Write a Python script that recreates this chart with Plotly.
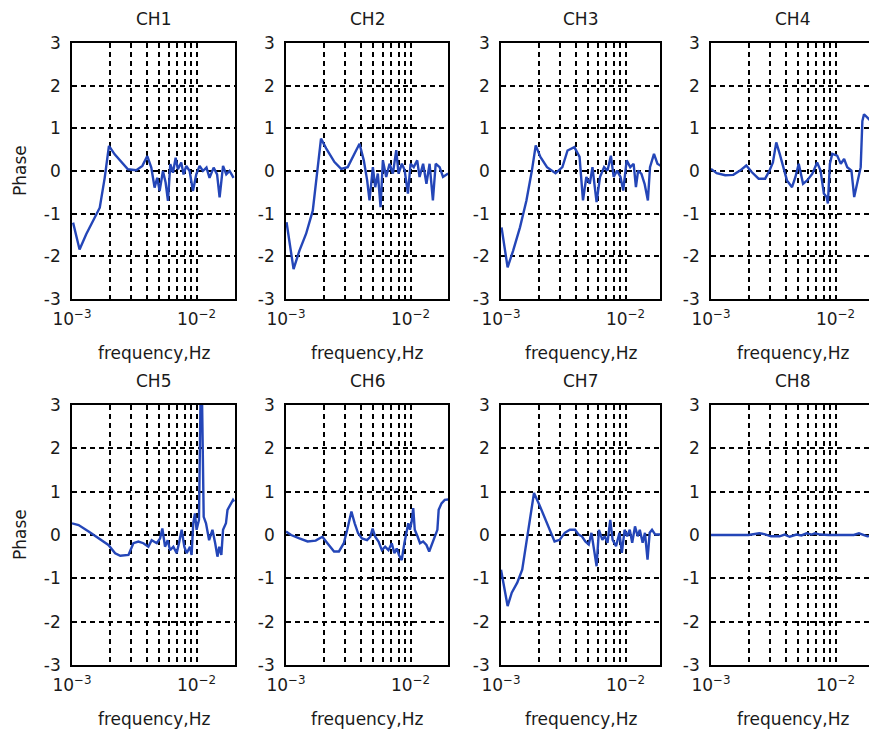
import plotly.graph_objects as go

# ---------------- data (frequency in Hz, phase) ----------------
titles = ["CH1", "CH2", "CH3", "CH4", "CH5", "CH6", "CH7", "CH8"]

f1 = [1.02e-3, 1.15e-3, 1.30e-3, 1.47e-3, 1.67e-3, 1.83e-3, 1.98e-3, 2.20e-3, 2.49e-3, 2.81e-3,
      3.28e-3, 3.67e-3, 4.02e-3, 4.33e-3, 4.60e-3, 4.83e-3, 5.05e-3, 5.37e-3, 5.64e-3, 5.89e-3,
      6.15e-3, 6.46e-3, 6.79e-3, 7.08e-3, 7.53e-3, 7.86e-3, 8.26e-3, 8.79e-3, 9.35e-3, 9.94e-3,
      1.057e-2, 1.124e-2, 1.20e-2, 1.27e-2, 1.37e-2, 1.46e-2, 1.53e-2, 1.63e-2, 1.73e-2, 1.84e-2, 1.98e-2]
p1 = [-1.21, -1.84, -1.48, -1.17, -0.86, -0.16, 0.59, 0.39, 0.20, 0.04,
      0.02, 0.12, 0.35, 0.08, -0.39, -0.16, -0.47, 0.00, -0.27, -0.70,
      0.16, -0.04, 0.31, 0.04, 0.20, -0.08, 0.12, 0.00, -0.47, -0.08,
      0.12, 0.00, 0.08, -0.16, 0.08, -0.08, -0.62, 0.12, -0.08, 0.00, -0.16]

f2 = [1.01e-3, 1.15e-3, 1.28e-3, 1.45e-3, 1.64e-3, 1.78e-3, 1.91e-3, 2.10e-3, 2.45e-3, 2.77e-3,
      3.13e-3, 3.55e-3, 3.89e-3, 4.21e-3, 4.48e-3, 4.68e-3, 4.98e-3, 5.20e-3, 5.46e-3, 5.74e-3,
      5.99e-3, 6.37e-3, 6.78e-3, 7.21e-3, 7.67e-3, 8.00e-3, 8.51e-3, 8.95e-3, 9.52e-3, 1.00e-2,
      1.06e-2, 1.13e-2, 1.18e-2, 1.26e-2, 1.34e-2, 1.42e-2, 1.51e-2, 1.59e-2, 1.71e-2, 1.82e-2, 2.00e-2]
p2 = [-1.20, -2.30, -1.87, -1.47, -0.93, 0.02, 0.76, 0.53, 0.21, 0.05,
      0.09, 0.41, 0.64, 0.25, -0.22, -0.69, 0.09, -0.38, -0.06, -0.85,
      0.25, -0.14, 0.17, -0.06, 0.49, -0.06, 0.17, 0.02, -0.53, 0.17,
      0.09, 0.25, -0.14, 0.17, -0.30, 0.17, -0.69, 0.17, 0.09, -0.14, -0.06]

f3 = [1.01e-3, 1.13e-3, 1.25e-3, 1.42e-3, 1.60e-3, 1.77e-3, 1.90e-3, 2.07e-3, 2.34e-3, 2.74e-3,
      3.11e-3, 3.42e-3, 3.88e-3, 4.27e-3, 4.55e-3, 4.84e-3, 5.16e-3, 5.42e-3, 5.66e-3, 5.85e-3,
      6.23e-3, 6.72e-3, 7.16e-3, 7.62e-3, 8.02e-3, 8.54e-3, 9.10e-3, 9.57e-3, 1.02e-2, 1.09e-2,
      1.16e-2, 1.21e-2, 1.26e-2, 1.34e-2, 1.42e-2, 1.51e-2, 1.57e-2, 1.69e-2, 1.80e-2, 2.00e-2]
p3 = [-1.32, -2.26, -1.87, -1.32, -0.69, 0.01, 0.60, 0.33, 0.09, -0.05,
      0.09, 0.48, 0.56, 0.33, -0.69, -0.14, -0.30, 0.09, -0.38, -0.73,
      -0.14, 0.09, 0.01, 0.36, -0.14, 0.01, -0.14, -0.46, 0.25, 0.09,
      0.17, -0.38, 0.01, -0.07, -0.30, -0.69, 0.09, 0.40, 0.17, 0.09]

f4 = [1.00e-3, 1.11e-3, 1.30e-3, 1.51e-3, 1.71e-3, 1.92e-3, 2.13e-3, 2.41e-3, 2.72e-3, 2.95e-3,
      3.14e-3, 3.34e-3, 3.56e-3, 3.78e-3, 4.07e-3, 4.47e-3, 4.76e-3, 5.06e-3, 5.48e-3, 5.91e-3,
      6.49e-3, 7.11e-3, 7.57e-3, 8.05e-3, 8.46e-3, 8.67e-3, 9.00e-3, 9.40e-3, 1.03e-2, 1.10e-2,
      1.17e-2, 1.24e-2, 1.34e-2, 1.41e-2, 1.48e-2, 1.59e-2, 1.64e-2, 1.69e-2, 1.80e-2, 1.91e-2]
p4 = [0.05, -0.05, -0.10, -0.09, 0.01, 0.13, -0.03, -0.18, -0.18, 0.01,
      0.20, 0.67, 0.40, 0.09, -0.22, -0.38, -0.14, 0.17, -0.30, -0.22,
      -0.07, 0.20, 0.01, -0.53, -0.61, -0.76, 0.17, 0.40, 0.36, 0.17,
      0.28, 0.09, 0.01, -0.61, -0.30, 0.09, 1.17, 1.33, 1.25, 1.17]

f5 = [1.00e-3, 1.13e-3, 1.36e-3, 1.63e-3, 1.96e-3, 2.22e-3, 2.44e-3, 2.84e-3, 3.11e-3, 3.41e-3,
      3.74e-3, 4.10e-3, 4.36e-3, 4.79e-3, 5.09e-3, 5.31e-3, 5.58e-3, 5.86e-3, 6.12e-3, 6.51e-3,
      6.92e-3, 7.22e-3, 7.59e-3, 7.97e-3, 8.32e-3, 8.85e-3, 9.12e-3, 9.40e-3, 9.70e-3, 1.00e-2,
      1.045e-2, 1.08e-2, 1.10e-2, 1.14e-2, 1.19e-2, 1.26e-2, 1.34e-2, 1.41e-2, 1.47e-2, 1.52e-2,
      1.58e-2, 1.63e-2, 1.72e-2, 1.77e-2, 1.88e-2, 1.96e-2, 2.00e-2]
p5 = [0.27, 0.23, 0.08, -0.08, -0.23, -0.42, -0.48, -0.46, -0.19, -0.15,
      -0.19, -0.27, -0.12, -0.19, -0.08, 0.15, -0.27, -0.12, -0.35, -0.27,
      -0.42, -0.19, 0.12, -0.27, -0.42, -0.27, -0.46, 0.27, 0.50, 0.12,
      0.35, 3.60, 3.60, 0.42, 0.27, -0.12, 0.12, -0.19, -0.50, -0.27,
      -0.46, 0.12, 0.27, 0.58, 0.73, 0.81, 0.77]

f6 = [1.00e-3, 1.10e-3, 1.28e-3, 1.49e-3, 1.73e-3, 1.96e-3, 2.15e-3, 2.43e-3, 2.66e-3, 2.91e-3,
      3.10e-3, 3.35e-3, 3.56e-3, 3.79e-3, 4.07e-3, 4.47e-3, 4.75e-3, 4.95e-3, 5.20e-3, 5.53e-3,
      5.88e-3, 6.25e-3, 6.64e-3, 7.06e-3, 7.41e-3, 7.74e-3, 8.07e-3, 8.48e-3, 8.91e-3, 9.29e-3,
      9.58e-3, 9.88e-3, 1.02e-2, 1.05e-2, 1.08e-2, 1.14e-2, 1.19e-2, 1.26e-2, 1.34e-2, 1.41e-2,
      1.49e-2, 1.56e-2, 1.64e-2, 1.68e-2, 1.77e-2, 1.88e-2, 2.00e-2]
p6 = [0.08, 0.00, -0.08, -0.15, -0.13, -0.04, -0.19, -0.38, -0.38, -0.19,
      0.12, 0.54, 0.27, 0.04, -0.08, -0.12, -0.04, 0.15, -0.04, -0.15,
      -0.35, -0.27, -0.35, -0.19, -0.42, -0.31, -0.46, -0.58, -0.19, 0.12,
      0.27, 0.12, 0.31, 0.62, 0.12, -0.04, -0.19, -0.15, -0.23, -0.38,
      -0.19, -0.04, 0.12, 0.58, 0.73, 0.81, 0.82]

f7 = [1.00e-3, 1.13e-3, 1.22e-3, 1.35e-3, 1.48e-3, 1.63e-3, 1.73e-3, 1.84e-3, 2.03e-3, 2.23e-3,
      2.45e-3, 2.69e-3, 2.96e-3, 3.25e-3, 3.57e-3, 3.93e-3, 4.19e-3, 4.46e-3, 4.75e-3, 5.06e-3,
      5.32e-3, 5.56e-3, 5.85e-3, 6.11e-3, 6.51e-3, 6.81e-3, 7.16e-3, 7.53e-3, 7.87e-3, 8.38e-3,
      8.93e-3, 9.33e-3, 9.82e-3, 1.03e-2, 1.08e-2, 1.13e-2, 1.19e-2, 1.25e-2, 1.30e-2, 1.37e-2,
      1.43e-2, 1.50e-2, 1.56e-2, 1.63e-2, 1.73e-2, 2.00e-2]
p7 = [-0.80, -1.64, -1.33, -1.10, -0.80, -0.03, 0.51, 0.97, 0.70, 0.43,
      0.12, -0.15, -0.11, 0.05, 0.12, 0.12, 0.01, -0.03, -0.15, -0.22,
      0.05, -0.34, -0.72, 0.12, -0.11, -0.03, -0.18, 0.35, -0.11, -0.26,
      0.05, -0.41, 0.12, -0.03, 0.12, -0.18, 0.20, -0.03, 0.12, -0.18,
      0.05, -0.57, 0.05, 0.12, 0.01, 0.01]

f8 = [1.00e-3, 2.00e-3, 2.44e-3, 2.68e-3, 3.03e-3, 3.55e-3, 3.90e-3, 4.28e-3, 4.85e-3, 5.32e-3,
      5.85e-3, 6.42e-3, 6.84e-3, 7.50e-3, 8.77e-3, 1.09e-2, 1.40e-2, 1.54e-2, 1.67e-2, 1.80e-2, 2.00e-2]
p8 = [0.00, 0.00, 0.04, 0.02, -0.03, -0.03, 0.01, -0.04, 0.01, -0.01,
      0.04, 0.01, 0.04, 0.01, 0.00, 0.00, 0.00, 0.04, 0.00, -0.03, 0.00]

freqs = [f1, f2, f3, f4, f5, f6, f7, f8]
phases = [p1, p2, p3, p4, p5, p6, p7, p8]
for a, b in zip(freqs, phases):
    assert len(a) == len(b), (len(a), len(b))

y_ticks = [-3, -2, -1, 0, 1, 2, 3]
x_major = [1e-3, 1e-2]
x_labels = ["10<sup>−3</sup>", "10<sup>−2</sup>"]
x_minor = [2e-3, 3e-3, 4e-3, 5e-3, 6e-3, 7e-3, 8e-3, 9e-3, 2e-2]

# ---------------- layout geometry (pixels) ----------------
W, H = 869, 733
cols_px = [(72, 235), (286, 448), (501, 660), (711, 869)]
rows_px = [(43, 299), (405, 665)]
decade_px = 124.6

FONT = "DejaVu Sans, Verdana, sans-serif"
TXT = "#1a1a1a"
LINE = "#2446b8"
DASH = "5px,4px"

fig = go.Figure()
layout = dict(
    width=W, height=H, autosize=False,
    margin=dict(l=0, r=0, t=0, b=0, pad=0, autoexpand=False),
    paper_bgcolor="white", plot_bgcolor="white",
    showlegend=False,
    font=dict(family=FONT, size=17, color=TXT),
)
annotations = []

for i in range(8):
    r, c = divmod(i, 4)
    x0, x1 = cols_px[c]
    yt, yb = rows_px[r]
    n = i + 1
    xa = "x" if n == 1 else f"x{n}"
    ya = "y" if n == 1 else f"y{n}"
    fig.add_trace(go.Scatter(x=freqs[i], y=phases[i], mode="lines",
                             line=dict(color=LINE, width=2.4),
                             xaxis=xa, yaxis=ya, hoverinfo="skip"))
    xmax_log = -3 + (x1 - x0) / decade_px
    layout[f"xaxis{n}"] = dict(
        domain=[x0 / W, x1 / W], anchor=ya, type="log",
        range=[-3, xmax_log],
        tickmode="array", tickvals=x_major, ticktext=x_labels,
        showgrid=True, gridcolor="black", griddash=DASH, gridwidth=1.8,
        minor=dict(tickmode="array", tickvals=x_minor, showgrid=True,
                   gridcolor="black", griddash=DASH, gridwidth=1.8, ticks=""),
        showline=True, linecolor="black", linewidth=1.6, mirror=True,
        ticks="", ticklabelstandoff=4,
        tickfont=dict(size=17, color=TXT),
        zeroline=False, fixedrange=True,
    )
    layout[f"yaxis{n}"] = dict(
        domain=[1 - yb / H, 1 - yt / H], anchor=xa,
        range=[-3, 3], tickmode="array", tickvals=y_ticks,
        ticktext=[str(v) for v in y_ticks],
        showgrid=True, gridcolor="black", griddash=DASH, gridwidth=1.8,
        showline=True, linecolor="black", linewidth=1.6,
        mirror=(c != 3),
        ticks="", ticklabelstandoff=6,
        tickfont=dict(size=17, color=TXT),
        zeroline=False, fixedrange=True,
    )
    cx = (x0 + (x0 + 163 if c == 3 else x1)) / 2
    annotations.append(dict(text=titles[i], x=cx / W, y=1 - (yt - 24) / H,
                            xref="paper", yref="paper", showarrow=False,
                            xanchor="center", yanchor="middle",
                            font=dict(size=17, color=TXT)))
    annotations.append(dict(text="frequency,Hz", x=cx / W, y=1 - (yb + 54) / H,
                            xref="paper", yref="paper", showarrow=False,
                            xanchor="center", yanchor="middle",
                            font=dict(size=17, color=TXT)))
    if c == 0:
        annotations.append(dict(text="Phase", x=20 / W, y=1 - ((yt + yb) / 2) / H,
                                xref="paper", yref="paper", showarrow=False,
                                textangle=-90, xanchor="center", yanchor="middle",
                                font=dict(size=17, color=TXT)))

layout["annotations"] = annotations
fig.update_layout(**layout)
fig.write_html(
    "out.html",
    config={"displayModeBar": False},
    post_script="document.body.style.margin='0px';document.body.style.overflow='hidden';",
)
